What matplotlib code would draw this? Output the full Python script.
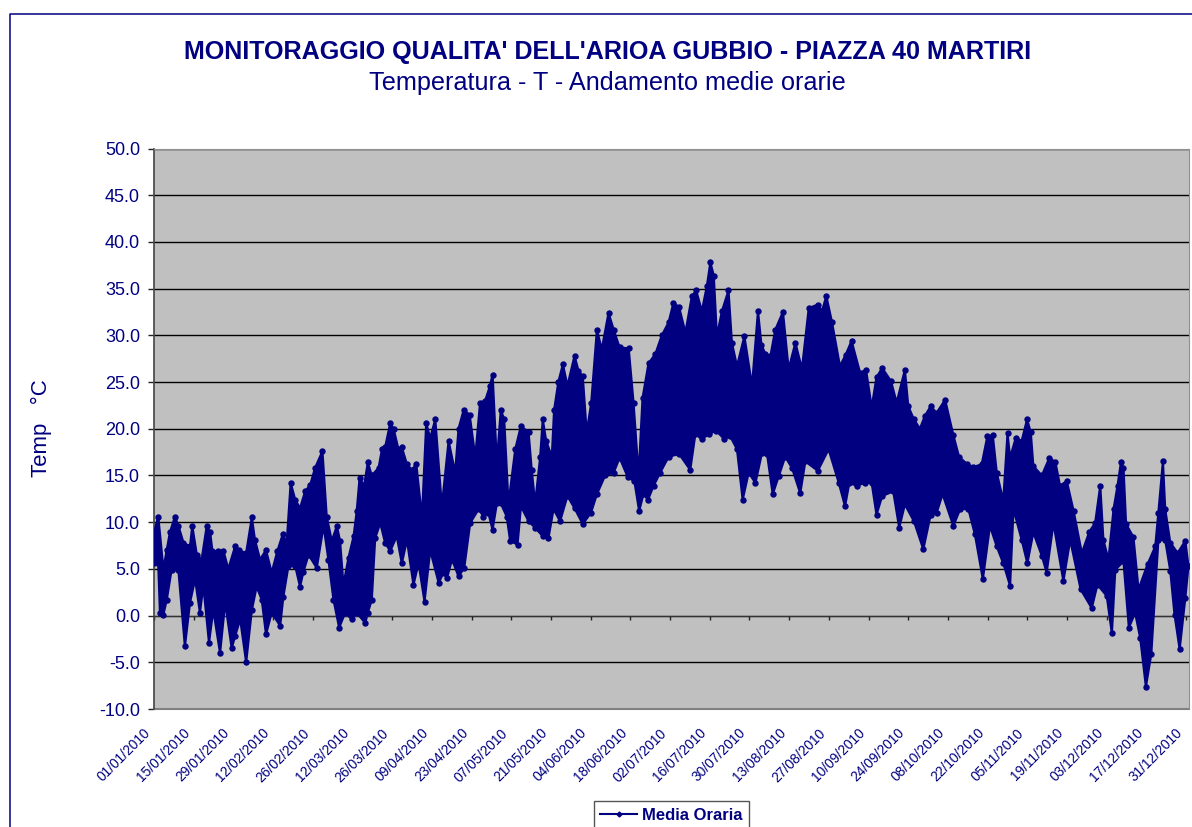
import numpy as np
import matplotlib
matplotlib.use("Agg")
import matplotlib.pyplot as plt
from matplotlib.lines import Line2D

# daily peaks: day of year (0 = 01/01/2010), temperature
high_day = [0, 1.5, 3.3, 4.5, 5.6, 7.4, 8.6, 10.4, 12.7, 13.5, 15.1, 16.8, 18.6, 19.8, 20.6, 22.7, 24.5, 26.2, 28.6, 29.8,
            32.5, 34.5, 35.6, 37.4, 39.5, 41.5, 43.5, 45.4, 46.8, 48.2, 49.8, 51.5, 53.3, 55.1, 56.8, 59.4, 60.9, 62.7, 64.5, 65.6,
            66.8, 68.6, 70.4, 71.5, 72.5, 74.1, 75.4, 76.8, 79.2, 80.4, 81.5, 83.3, 84.5, 86.2, 87.4, 89.2, 90.9, 92.5, 94.5, 96,
            97.4, 99.2, 101.5, 103.9, 106.2, 107.4, 109.2, 111.3, 113.3,
            115, 116.8, 118.5, 119.4, 120.9, 122.3, 123.5, 125, 127.4, 129.4, 132.1, 133.2, 134.4, 136.2, 137.1, 138.3, 140.3, 141.1, 142.6, 144.2,
            145.8, 148.3, 149.7, 151.2, 152.6, 154.2, 156.2, 157.9, 160.3, 162.1, 164.2, 167.4, 169.1, 170.9, 172.3, 174.4, 176.8, 179.1, 181.5, 183.2,
            185.2, 187.4, 189.7, 191.2, 193.2, 195, 196.2, 197.4, 198.5, 200.3, 202.6, 203.8, 205.6, 208.2, 210.9, 213, 214.2, 215.6, 217.4, 219.1,
            221.8, 223.8, 226.2, 228.5, 230.9, 234.1, 235.6, 237.1, 239.1,
            241.9, 243.9, 246, 249, 251.1, 253.1, 254.8, 256.8, 259.9, 261.9, 264.8, 266, 268, 270.1, 271.9, 273.9, 276, 279, 281.9, 283.9,
            286.8, 289, 291.9, 293.9, 295.8, 297.2, 299.5, 301, 301.9, 303.9, 306, 307.9, 309.2, 310.1, 313.1, 315.8, 317.9, 319.5, 321.9, 324.3,
            327.2, 329.9, 331.9, 333.7, 334.8, 336.6, 338.4, 339.8, 341, 341.9, 342.8, 345.4, 347.2, 350.4, 353.1, 354.2, 355.8, 356.6, 358.4, 361,
            363.7, 364.8]
high_temp = [8.9, 10.6, 5, 7, 8.9, 10.6, 9.6, 7.8, 7.4, 9.6, 6.5, 6, 9.6, 8.9, 6.9, 6.9, 6.9, 5, 7.4, 7,
             6.7, 10.5, 8.1, 6, 7, 4.6, 6.9, 8.7, 7.8, 14.2, 12.4, 11.5, 13.3, 14, 15.8, 17.6, 10.6, 8, 9.6, 8,
             3.3, 6.2, 8.5, 11.2, 14.7, 13.9, 16.4, 15, 15.8, 17.8, 18, 20.6, 20, 17.8, 18, 16.2, 15.6, 16.2, 10.5, 20.6,
             19, 21, 11.7, 18.7, 15.3, 20, 22, 21.5, 17,
             22.8, 23, 24.6, 25.8, 16.4, 22, 21, 12, 17.8, 20.3, 19.6, 15.6, 12, 17, 21, 18.7, 17, 22, 25, 26.9,
             24.6, 27.8, 26.2, 25.6, 19.6, 22.8, 30.6, 28.5, 32.4, 30.6, 28.7, 28.6, 22.8, 15, 23.3, 27, 28, 30, 31.4, 33.5,
             33, 30.3, 34.2, 34.8, 32.6, 35.3, 37.8, 36.4, 29.9, 32.6, 34.8, 29.2, 26.7, 29.9, 24.6, 32.6, 29, 28, 27.8, 30.6,
             32.5, 26.4, 29.2, 26.4, 32.9, 33.3, 32.6, 34.2, 31.4,
             26.7, 27.9, 29.4, 26, 26.3, 22.3, 25.5, 26.5, 25.1, 22.8, 26.3, 22.4, 21, 20, 21.4, 22.4, 21.7, 23.1, 19.3, 17,
             16.2, 15.9, 16.2, 19.2, 19.3, 15.3, 12.3, 19.5, 16.9, 19, 18.7, 21, 19.6, 16, 15, 16.9, 16.4, 13.9, 14.4, 11.2,
             6.7, 9, 9.9, 13.9, 8.1, 6, 11.4, 13.9, 16.4, 15.8, 9.8, 8.4, 2.8, 5.5, 7.4, 11, 16.5, 11.4, 7.8, 6.7,
             8, 5.3]

# nightly lows
low_day = [0, 1.5, 2.1, 3.3, 4.5, 6.2, 8.6, 10.9, 12.7, 14.5, 16.2, 17.4, 19.4, 20.9, 23.3, 25.1, 27.4, 28.6, 30.4, 32.5,
           34.5, 36.2, 38, 39.5, 41.5, 44.5, 45.6, 47.4, 49.8, 51.5, 52.7, 54.5, 57.4, 59.8, 61.5, 63.3, 65.3, 67.4, 69.8, 71.5,
           74.5, 75.4, 76.8, 78, 79.8, 81.5, 83.3, 85.6, 87.4, 89.2, 91.5, 93.3, 95.4, 97.4, 100.4, 102.1, 103.3, 105.1, 107.4, 109.4,
           111.5, 114.5,
           116.2, 117.9, 119.4, 120.9, 122.3, 124.4, 125.6, 128.2, 129.4, 132.1, 134.4, 137.1, 139.1, 140.9, 143.2, 145.8, 148.3, 151.2, 154.1, 156.2,
           159.1, 162.1, 164.2, 167.1, 169.4, 171.1, 172.6, 174.2, 176.2, 178.5, 181.5, 185.2, 189.1, 190.9, 193.2, 195.6, 198.2, 201.1, 203.2, 205.6,
           207.6, 209.7, 212.1, 214.4, 216.2, 218.2, 220.3, 222.6, 225, 227.9, 229.7, 234.1, 237.9, 241.5,
           243.7, 245.2, 247.8, 250.7, 253.1, 254.8, 256.8, 260.7, 262.8, 264.8, 268, 271.3, 273.9, 276, 278.1, 281.9, 284.3, 287.2, 289.5, 292.3,
           294.8, 297.2, 299.5, 301.9, 303.1, 306, 308, 310.1, 313.1, 314.8, 317.2, 320.7, 323.1, 326.8, 330.7, 332.7, 336, 337.8, 339, 341.9,
           343.8, 346, 347.8, 349.8, 351.7, 354.2, 356.6, 358.4, 359.9, 361.7, 363.7, 364.8]
low_temp = [5.6, 5.6, 0.3, 0.1, 1.7, 4.9, 4.9, -3.3, 1.4, 3.9, 0.3, 3.2, -2.9, 0.6, -4, 1.4, -3.5, -2.2, -0.4, -5,
            0.6, 3.1, 1.7, -2, 0.3, -1.1, 2, 5.3, 5.3, 3.1, 4.7, 6.5, 5.1, 9.6, 6, 1.7, -1.3, 0.3, -0.4, 0.3,
            -0.8, 0.3, 1.7, 8.3, 9.9, 7.8, 6.9, 8.5, 5.6, 8.1, 3.3, 5.6, 1.5, 7, 3.5, 4.6, 4, 6, 4.2, 5.1,
            9.9, 11.4,
            10.6, 11, 9.2, 12, 12, 10.6, 8, 7.6, 11.7, 10.1, 9.4, 8.5, 8.3, 11.4, 10.1, 12.8, 11.5, 9.8, 11, 13,
            15, 15.3, 16.9, 14.8, 14.4, 11.2, 13, 12.4, 13.9, 15.3, 17, 17.3, 15.6, 19.4, 18.9, 19.4, 19.8, 18.9, 19.2, 17.8,
            12.4, 15.3, 14.2, 17.4, 17.3, 13, 14.9, 17, 15.8, 13.1, 16.5, 15.5, 17.8, 14.2,
            11.7, 14.2, 13.9, 14.2, 14.2, 10.8, 12.8, 13.3, 9.4, 11.9, 10.1, 7.1, 10.8, 11, 13, 9.6, 11.4, 11.4, 8.7, 3.9,
            9.6, 7.4, 5.6, 3.2, 11.4, 8.1, 5.6, 8.9, 6.4, 4.6, 9.9, 3.7, 8.1, 2.8, 0.8, 3.3, 2.1, -1.9, 4.9, 5.8,
            -1.3, 0.3, -2.4, -7.6, -4.1, 8.1, 8.1, 4.8, 0.1, -3.6, 1.9, 5.3]

tick_labels = ["01/01/2010", "15/01/2010", "29/01/2010", "12/02/2010", "26/02/2010", "12/03/2010", "26/03/2010",
               "09/04/2010", "23/04/2010", "07/05/2010", "21/05/2010", "04/06/2010", "18/06/2010", "02/07/2010",
               "16/07/2010", "30/07/2010", "13/08/2010", "27/08/2010", "10/09/2010", "24/09/2010", "08/10/2010",
               "22/10/2010", "05/11/2010", "19/11/2010", "03/12/2010", "17/12/2010", "31/12/2010"]

NAVY = "#000080"
W, H = 1192, 827

plt.rcParams["font.family"] = ["Liberation Sans", "DejaVu Sans"]

fig = plt.figure(figsize=(W / 100, H / 100), dpi=100)
ax = fig.add_axes([154 / W, 1 - 709 / H, 1035 / W, 560.5 / H])
ax.set_facecolor("#C0C0C0")

# hourly swings are too tight to read one by one, so the band between the
# read peaks and lows stands in for the dense mass of the line
ax.fill(high_day + low_day[::-1], high_temp + low_temp[::-1], color=NAVY, lw=0, zorder=3)
ax.plot(high_day, high_temp, color=NAVY, lw=1.6, marker="o", ms=4.6, mew=0, zorder=3)
ax.plot(low_day, low_temp, color=NAVY, lw=1.6, marker="o", ms=4.6, mew=0, zorder=3)

ax.set_xlim(0, 365)
ax.set_ylim(-10, 50)
ax.set_yticks(np.arange(-10, 51, 5))
ax.set_yticklabels([f"{v:.1f}" for v in np.arange(-10, 51, 5)], color=NAVY, fontsize=13)
ax.grid(axis="y", color="black", lw=1)
ax.set_axisbelow(True)
ax.tick_params(axis="y", length=4, width=1, color="#222222", pad=6)

# x axis crosses at zero, labels stay under the plot
x_ticks = list(range(0, 364, 14)) + [364]
ax.spines["bottom"].set_position(("data", 0))
ax.spines["bottom"].set_color("#333333")
ax.spines["left"].set_color("#444444")
ax.spines["left"].set_linewidth(1.2)
ax.spines["top"].set_color("#909090")
ax.spines["right"].set_color("#909090")
ax.set_xticks(x_ticks)
ax.set_xticklabels([])
ax.tick_params(axis="x", length=3, width=1, color="#222222")
for d, lab in zip(x_ticks, tick_labels):
    ax.annotate(lab, xy=(d, -10), xycoords="data", xytext=(-7.8, -12.2), textcoords="offset points",
                rotation=45, ha="right", va="top", rotation_mode="anchor", color=NAVY, fontsize=9.9)
ax.plot([0, 365], [-10, -10], color="#808080", lw=1.5, clip_on=False, zorder=2)

fig.text(607.5 / W, 1 - 52 / H, "MONITORAGGIO QUALITA' DELL'ARIOA GUBBIO - PIAZZA 40 MARTIRI", color=NAVY,
         fontsize=18.05, fontweight="bold", ha="center", va="center")
fig.text(607.5 / W, 1 - 83 / H, "Temperatura - T - Andamento medie orarie", color=NAVY,
         fontsize=18.2, ha="center", va="center")
fig.text(41 / W, 1 - 428 / H, "Temp   °C", color=NAVY, fontsize=16, rotation=90, ha="center", va="center")

# outer frame, cut by the image on the right and at the bottom
fig.add_artist(Line2D([9.5 / W, 9.5 / W, 1], [0, 1 - 14 / H, 1 - 14 / H], color=NAVY, lw=1.1))

handle = Line2D([], [], color=NAVY, lw=1.5, marker="D", ms=2.5)
leg = fig.legend([handle], ["Media Oraria"], loc="center", bbox_to_anchor=(671.5 / W, 1 - 815 / H), frameon=True,
                 fancybox=False, edgecolor="#555555", facecolor="white", framealpha=1, handlelength=2.2,
                 handletextpad=0.3, borderpad=0.4, borderaxespad=0,
                 prop={"size": 12, "weight": "bold"})
for text in leg.get_texts():
    text.set_color(NAVY)

fig.savefig("out.png", dpi=100)
